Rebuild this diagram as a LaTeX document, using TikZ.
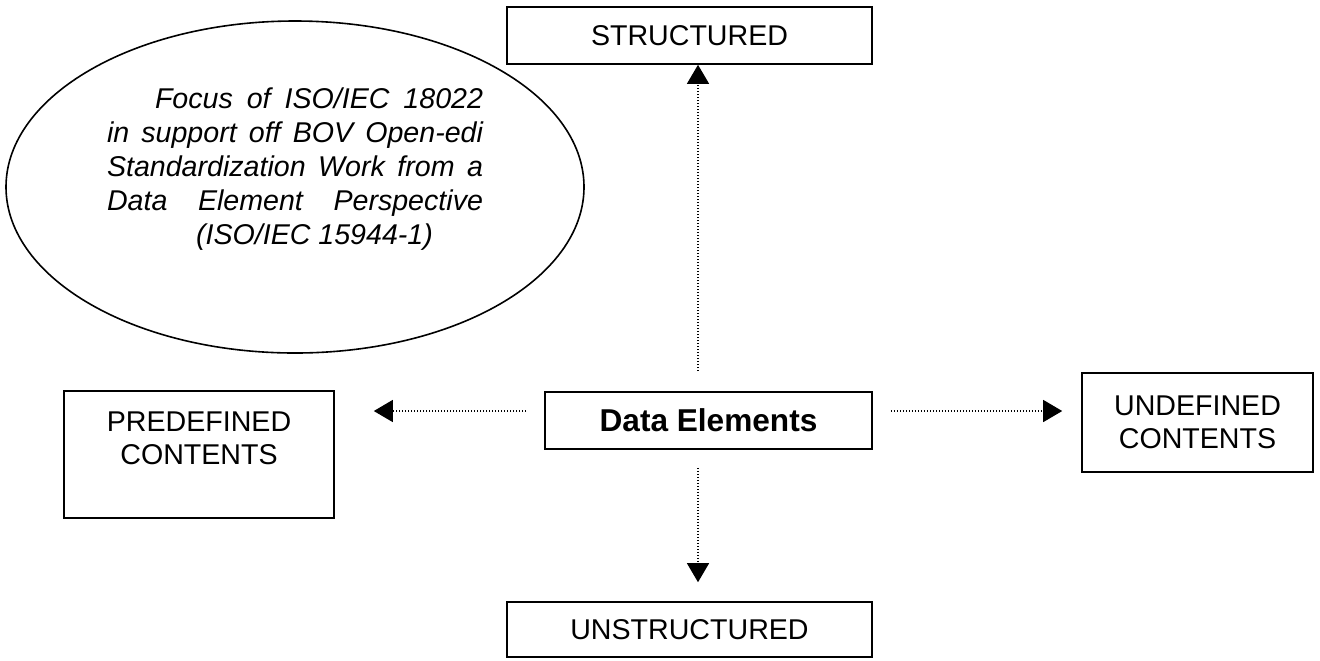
\documentclass[tikz,border=0pt]{standalone}
\usepackage{fontspec}
\setmainfont{Liberation Sans}
\usetikzlibrary{arrows.meta,shapes.geometric}

\begin{document}
\begin{tikzpicture}[x=0.5pt, y=-0.5pt,
 box/.style={draw, line width=0.8pt, rectangle, inner sep=0pt, align=center, font=\fontsize{14.3pt}{16.5pt}\selectfont},
 flow/.style={-{Triangle[length=9.5pt, width=11pt]}, line width=0.6pt, dash pattern=on 0.6pt off 0.9pt}]
 \useasboundingbox (0,0) rectangle (1320,660);

 \node[box, minimum width=182.5pt, minimum height=28.5pt] (struct) at (689.5,35.5) {STRUCTURED};
 \node[box, minimum width=163.5pt, minimum height=28.5pt, font=\fontsize{15.8pt}{18pt}\selectfont\bfseries] (dataelem) at (708.5,420.5) {Data Elements};
 \node[box, minimum width=182.5pt, minimum height=27.5pt] (unstruct) at (689.5,629.5) {UNSTRUCTURED};
 \node[box, minimum width=135pt, minimum height=63.5pt] (predef) at (199,454.5) {PREDEFINED\\CONTENTS\\[0pt]\mbox{}};
 \node[box, minimum width=115.5pt, minimum height=49.5pt] (undef) at (1197.5,422.5) {UNDEFINED\\CONTENTS};

 \node[draw, ellipse, line width=0.8pt, inner sep=0pt, minimum width=289pt, minimum height=166pt] (focus) at (295,187) {};
 \node[inner sep=0pt, align=left, font=\fontsize{14.3pt}{17pt}\selectfont\itshape] (focustext) at (295,169.5) {%
  \makebox[188pt][r]{\makebox[164pt][s]{Focus of ISO/IEC 18022}}\\
  \makebox[188pt][s]{in support off BOV Open-edi}\\
  \makebox[188pt][s]{Standardization Work from a}\\
  \makebox[188pt][s]{Data Element Perspective}\\
  \makebox[188pt]{\hspace{19.5pt}(ISO/IEC 15944-1)}};

 \coordinate (vaxis) at (698,0);
 \coordinate (hrow) at (0,411);

 \draw[flow, shorten <=10pt] (vaxis |- dataelem.north) -- (vaxis |- struct.south);
 \draw[flow, shorten <=9pt, shorten >=9.5pt] (vaxis |- dataelem.south) -- (vaxis |- unstruct.north);
 \draw[flow, shorten <=9pt, shorten >=19.5pt] (hrow -| dataelem.west) -- (hrow -| predef.east);
 \draw[flow, shorten <=9pt, shorten >=9.5pt] (hrow -| dataelem.east) -- (hrow -| undef.west);
\end{tikzpicture}
\end{document}
